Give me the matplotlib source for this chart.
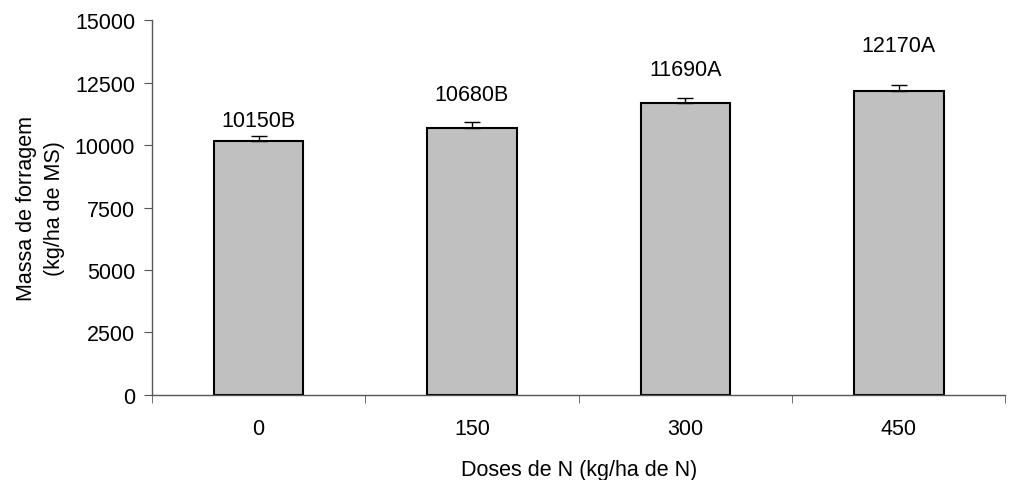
import numpy as np
import matplotlib.pyplot as plt

plt.rcParams["font.family"] = ["Liberation Sans", "DejaVu Sans"]

doses = ["0", "150", "300", "450"]
massa = [10150, 10680, 11690, 12170]
erro = [200, 250, 200, 220]
letras = ["B", "B", "A", "A"]
# altura do rótulo de cada barra
y_rotulo = [11000, 12040, 13040, 14000]

x = np.arange(len(doses))
fs = 15.5

fig = plt.figure(figsize=(10.26, 4.81), dpi=100)
ax = fig.add_axes([0.148, 0.177, 0.832, 0.779])

ax.bar(x, massa, width=0.42, color="#c0c0c0", edgecolor="black", linewidth=1.5, zorder=2)
ax.errorbar(x, massa, yerr=[np.zeros(len(erro)), erro], fmt="none",
            ecolor="black", elinewidth=1, capsize=6, capthick=1, zorder=3)

for xi, v, l, yl in zip(x, massa, letras, y_rotulo):
    ax.text(xi, yl, f"{v}{l}", ha="center", va="center", fontsize=fs)

ax.set_xlim(-0.5, len(doses) - 0.5)
ax.set_ylim(0, 15000)
ax.set_yticks(np.arange(0, 15001, 2500))
ax.set_xticks(x)
ax.set_xticklabels(doses)
ax.set_xticks(np.arange(-0.5, len(doses), 1.0), minor=True)
ax.tick_params(axis="x", which="major", length=0, pad=17, labelsize=fs)
ax.tick_params(axis="x", which="minor", length=6, color="#555555")
ax.tick_params(axis="y", length=6, color="#555555", labelsize=fs, pad=6)

for s in ["top", "right"]:
    ax.spines[s].set_visible(False)
for s in ["left", "bottom"]:
    ax.spines[s].set_color("#555555")
    ax.spines[s].set_linewidth(1)

ax.set_ylabel("Massa de forragem\n(kg/ha de MS)", fontsize=fs, labelpad=7, linespacing=1.45)
ax.set_xlabel("Doses de N (kg/ha de N)", fontsize=fs, labelpad=14)

fig.savefig("out.png", dpi=100)
